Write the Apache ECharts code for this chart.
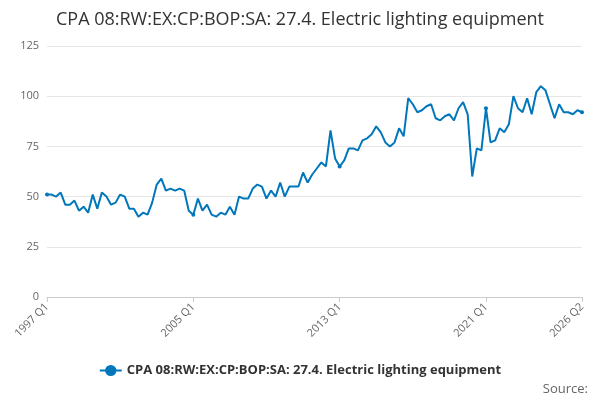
<!DOCTYPE html><html><head><meta charset="utf-8"><script src="https://cdn.jsdelivr.net/npm/echarts@6/dist/echarts.min.js"></script></head><body style="margin:0"><div id="c" style="width:600px;height:400px"></div><script>
const title='CPA 08:RW:EX:CP:BOP:SA: 27.4. Electric lighting equipment';
const values=[51,51,50,52,46,46,48,43,45,42,51,44,52,50,46,47,51,50,44,44,40,42,41,47,56,59,53,54,53,54,53,43,
41,49,43,46,41,40,42,41,45,41,50,49,49,54,56,55,49,53,50,57,50,55,55,55,62,57,61,64,67,65,83,69,
65,68,74,74,73,78,79,81,85,82,77,75,77,84,80,99,96,92,93,95,96,89,88,90,91,88,94,97,91,60,74,73,
94,77,78,84,82,86,100,94,92,99,91,102,105,103,96,89,96,92,92,91,93,92];
const categories=[];
for(let y=1997;y<=2026;y++)for(let q=1;q<=4;q++){if(y===2026&&q>2)break;categories.push(y+' Q'+q);}
const last=categories.length-1;
const show=(i)=>i%32===0||i===last;
const ch=echarts.init(document.getElementById('c'));
ch.setOption({
title:{text:title,left:'center',top:6,textStyle:{fontFamily:'Open Sans',fontSize:18,fontWeight:'normal',color:'#333'}},
grid:{left:47,right:18,top:46,bottom:103},
xAxis:{type:'category',data:categories,boundaryGap:false,
axisLine:{lineStyle:{color:'#ccc'}},axisTick:{interval:show,lineStyle:{color:'#ccc'}},
axisLabel:{interval:show,rotate:45,color:'#666',fontFamily:'Open Sans',fontSize:11},splitLine:{show:false}},
yAxis:{type:'value',min:0,max:125,interval:25,axisLabel:{color:'#666',fontFamily:'Open Sans',fontSize:11},
splitLine:{lineStyle:{color:'#e6e6e6'}},axisLine:{show:false},axisTick:{show:false}},
legend:{bottom:18,left:'center',itemWidth:22,textStyle:{fontFamily:'Open Sans',fontSize:13,fontWeight:'bold',color:'#333'}},
graphic:[{type:'text',right:12,bottom:4,style:{text:'Source:',font:'13px Open Sans',fill:'#666'}}],
series:[{name:title,type:'line',data:values,color:'#0077bb',symbol:'circle',symbolSize:4,lineStyle:{width:2},animation:false}]
});
</script></body></html>
